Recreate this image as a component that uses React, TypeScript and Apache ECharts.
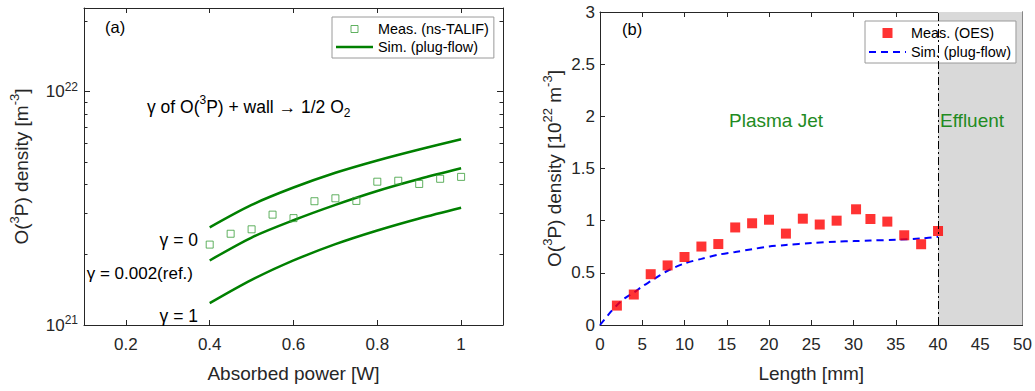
import React, { useEffect, useRef } from 'react';
import * as echarts from 'echarts';

// ---------- Panel (a) data ----------
const powerW = [0.4, 0.45, 0.5, 0.55, 0.6, 0.65, 0.7, 0.75, 0.8, 0.85, 0.9, 0.95, 1.0];
const measTALIF = [2.21e21, 2.46e21, 2.57e21, 2.97e21, 2.87e21, 3.39e21, 3.49e21, 3.40e21, 4.11e21, 4.15e21, 4.02e21, 4.23e21, 4.31e21];
const simPower = [0.4, 0.5, 0.6, 0.7, 0.8, 0.9, 1.0];
const simGamma0 = [2.62e21, 3.27e21, 3.88e21, 4.49e21, 5.07e21, 5.65e21, 6.25e21];
const simGammaRef = [1.89e21, 2.37e21, 2.81e21, 3.27e21, 3.75e21, 4.22e21, 4.69e21];
const simGamma1 = [1.24e21, 1.56e21, 1.89e21, 2.22e21, 2.54e21, 2.86e21, 3.18e21];
const powerTicks = [0.2, 0.4, 0.6, 0.8, 1.0];
const densMajorTicks = [1e21, 1e22];
const densMinorTicks = [2e21, 3e21, 4e21, 5e21, 6e21, 7e21, 8e21, 9e21, 2e22];

// ---------- Panel (b) data ----------
const lengthMm = [2, 4, 6, 8, 10, 12, 14, 16, 18, 20, 22, 24, 26, 28, 30.3, 32, 34, 36, 38, 40];
const measOES = [0.186, 0.292, 0.487, 0.571, 0.652, 0.752, 0.776, 0.935, 0.975, 1.009, 0.876, 1.019, 0.963, 1.0, 1.109, 1.016, 0.991, 0.86, 0.774, 0.901];
const simLength = [0, 1, 2, 3, 4, 5, 6, 8, 10, 12, 14, 16, 18, 20, 22, 25, 28, 30, 32, 35, 38, 40];
const simPlug = [0, 0.1, 0.19, 0.26, 0.31, 0.37, 0.42, 0.52, 0.59, 0.634, 0.674, 0.7, 0.727, 0.752, 0.767, 0.786, 0.799, 0.804, 0.81, 0.817, 0.829, 0.845];
const effluentStart = 40;
const effluentEnd = 50;

const FONT = "'Liberation Sans', Arial, Helvetica, sans-serif";
const AX = '#262626';
const GREEN = '#008000';
const DENS_MIN = 1e21;
const DENS_MAX = 2.28e22;

const supRich = {
  s: { fontSize: 13, fontFamily: FONT, color: AX, verticalAlign: 'top', lineHeight: 12 },
};

const nameStyle = (rich?: any) => ({
  fontSize: 19,
  fontFamily: FONT,
  color: AX,
  lineHeight: 26,
  rich: rich || {},
});

const tickLine = { color: AX, width: 1 };

function boxAxis(extra: any) {
  return {
    type: 'value',
    axisLine: { show: true, onZero: false, lineStyle: tickLine },
    axisTick: { show: true, inside: true, length: 5, lineStyle: tickLine },
    axisLabel: { show: false },
    splitLine: { show: false },
    ...extra,
  };
}

const pts = (xs: number[], ys: number[]) => xs.map((x, i) => [x, ys[i]]);

const SQUARE = 'path://M0 0H10V10H0Z';
const BAR = 'path://M0 0H37V2.5H0Z';
const DASHBAR = 'path://M0 0H7V2H0Z M12 0H19V2H12Z M24 0H31V2H24Z M36 0H37V2H36Z';

function buildOption(): any {
  const labelStyle = { color: AX, fontSize: 17, fontFamily: FONT };
  const txt = (x: number, y: number, text: string, size: number, align: string, fill = '#000', z = 10) => ({
    type: 'text', x, y, z,
    style: { text, fontSize: size, fontFamily: FONT, fill, align, verticalAlign: 'middle' },
  });
  return {
    animation: false,
    backgroundColor: '#ffffff',
    grid: [
      { left: 84, top: 8, width: 419, height: 326, containLabel: false },
      { left: 600, top: 12, width: 423, height: 322, containLabel: false },
    ],
    xAxis: [
      boxAxis({
        gridIndex: 0, position: 'bottom', min: 0.1, max: 1.1,
        axisTick: { show: true, inside: true, length: 5, lineStyle: tickLine, customValues: powerTicks },
        axisLabel: { show: true, customValues: powerTicks, margin: 11, ...labelStyle },
        name: 'Absorbed power [W]', nameLocation: 'middle', nameGap: 35,
        nameTextStyle: nameStyle(),
      }),
      boxAxis({
        gridIndex: 0, position: 'top', min: 0.1, max: 1.1,
        axisTick: { show: true, inside: true, length: 5, lineStyle: tickLine, customValues: powerTicks },
      }),
      boxAxis({
        gridIndex: 1, position: 'bottom', min: 0, max: 50, interval: 5,
        axisLabel: { show: true, margin: 11, ...labelStyle },
        name: 'Length [mm]', nameLocation: 'middle', nameGap: 35,
        nameTextStyle: nameStyle(),
      }),
      boxAxis({ gridIndex: 1, position: 'top', min: 0, max: 50, interval: 5 }),
    ],
    yAxis: [
      boxAxis({
        gridIndex: 0, type: 'log', logBase: 10, position: 'left', min: DENS_MIN, max: DENS_MAX,
        axisTick: { show: true, inside: true, length: 6, lineStyle: tickLine, customValues: densMajorTicks },
        axisLabel: {
          show: true, customValues: densMajorTicks, margin: 6, ...labelStyle, lineHeight: 22,
          formatter: (v: number) => `{b|10}{s|${Math.round(Math.log10(v))}}`,
          rich: {
            b: { fontSize: 17, fontFamily: FONT, color: AX, lineHeight: 22 },
            s: { fontSize: 12, fontFamily: FONT, color: AX, verticalAlign: 'top', lineHeight: 11 },
          },
        },
        name: 'O({s|3}P) density [m{s|-3}]', nameLocation: 'middle', nameGap: 50,
        nameTextStyle: nameStyle(supRich),
      }),
      boxAxis({
        gridIndex: 0, type: 'log', logBase: 10, position: 'right', min: DENS_MIN, max: DENS_MAX,
        axisTick: { show: true, inside: true, length: 6, lineStyle: tickLine, customValues: densMajorTicks },
      }),
      boxAxis({
        gridIndex: 0, type: 'log', logBase: 10, position: 'left', min: DENS_MIN, max: DENS_MAX,
        axisLine: { show: false },
        axisTick: { show: true, inside: true, length: 3.5, lineStyle: tickLine, customValues: densMinorTicks },
      }),
      boxAxis({
        gridIndex: 0, type: 'log', logBase: 10, position: 'right', min: DENS_MIN, max: DENS_MAX,
        axisLine: { show: false },
        axisTick: { show: true, inside: true, length: 3.5, lineStyle: tickLine, customValues: densMinorTicks },
      }),
      boxAxis({
        gridIndex: 1, position: 'left', min: 0, max: 3, interval: 0.5,
        axisLabel: { show: true, margin: 5, ...labelStyle },
        name: 'O({s|3}P) density [10{s|22} m{s|-3}]', nameLocation: 'middle', nameGap: 25,
        nameTextStyle: nameStyle(supRich),
      }),
      boxAxis({ gridIndex: 1, position: 'right', min: 0, max: 3, interval: 0.5 }),
    ],
    legend: [
      {
        left: 332, top: 17, orient: 'vertical', selectedMode: false,
        padding: [5, 5, 4, 4], itemGap: 4, itemWidth: 37, itemHeight: 7,
        backgroundColor: '#ffffff', borderColor: '#9a9a9a', borderWidth: 1,
        textStyle: { fontSize: 14.4, fontFamily: FONT, color: '#000' },
        data: [
          { name: 'Meas. (ns-TALIF)', icon: SQUARE, itemStyle: { color: 'rgba(0,0,0,0)', borderColor: '#3a9e3a', borderWidth: 1 } },
          { name: 'Sim. (plug-flow)', icon: BAR, itemStyle: { color: GREEN, borderWidth: 0 } },
        ],
      },
      {
        left: 865, top: 21, orient: 'vertical', selectedMode: false,
        padding: [5, 5, 4, 4], itemGap: 5, itemWidth: 37, itemHeight: 10,
        backgroundColor: '#ffffff', borderColor: '#9a9a9a', borderWidth: 1,
        textStyle: { fontSize: 14.4, fontFamily: FONT, color: '#000' },
        formatter: (n: string) => n.replace(' [b]', ''),
        data: [
          { name: 'Meas. (OES)', icon: SQUARE, itemStyle: { color: '#ff0000', borderWidth: 0 } },
          { name: 'Sim. (plug-flow) [b]', icon: DASHBAR, itemStyle: { color: '#0000ff', borderWidth: 0 } },
        ],
      },
    ],
    series: [
      {
        name: 'γ = 0', type: 'line', xAxisIndex: 0, yAxisIndex: 0, color: GREEN, smooth: 0.3,
        symbol: 'none', showSymbol: false, lineStyle: { color: GREEN, width: 2.5 },
        data: pts(simPower, simGamma0),
      },
      {
        name: 'Sim. (plug-flow)', type: 'line', xAxisIndex: 0, yAxisIndex: 0, color: GREEN, smooth: 0.3,
        symbol: 'none', showSymbol: false, lineStyle: { color: GREEN, width: 2.5 },
        data: pts(simPower, simGammaRef),
      },
      {
        name: 'γ = 1', type: 'line', xAxisIndex: 0, yAxisIndex: 0, color: GREEN, smooth: 0.3,
        symbol: 'none', showSymbol: false, lineStyle: { color: GREEN, width: 2.5 },
        data: pts(simPower, simGamma1),
      },
      {
        name: 'Meas. (ns-TALIF)', type: 'scatter', xAxisIndex: 0, yAxisIndex: 0,
        symbol: 'rect', symbolSize: 7,
        itemStyle: { color: 'rgba(0,0,0,0)', borderColor: '#3a9e3a', borderWidth: 1 },
        data: pts(powerW, measTALIF),
        z: 3,
      },
      {
        name: 'Sim. (plug-flow) [b]', type: 'line', xAxisIndex: 2, yAxisIndex: 4, color: '#0000ff', smooth: 0.3,
        symbol: 'none', showSymbol: false,
        lineStyle: { color: '#0000ff', width: 2, type: [7, 5] },
        data: pts(simLength, simPlug),
        markArea: {
          silent: true,
          itemStyle: { color: '#d9d9d9' },
          data: [[{ xAxis: effluentStart, yAxis: 0 }, { xAxis: effluentEnd, yAxis: 3 }]],
        },
        markLine: {
          silent: true, symbol: 'none', label: { show: false },
          lineStyle: { color: '#000', width: 1, type: [8, 3, 2, 3] },
          data: [{ xAxis: effluentStart }],
        },
      },
      {
        name: 'Meas. (OES)', type: 'scatter', xAxisIndex: 2, yAxisIndex: 4,
        symbol: 'rect', symbolSize: 10, itemStyle: { color: '#ff0000' },
        data: pts(lengthMm, measOES),
        z: 3,
      },
    ],
    graphic: [
      txt(105, 27, '(a)', 16.5, 'left'),
      txt(622, 29, '(b)', 16.5, 'left'),
      {
        type: 'text', left: 147, top: 94, z: 10,
        style: {
          text: 'γ of O({s|3}P) + wall → 1/2 O{u|2}', fontSize: 17.5, fontFamily: FONT, fill: '#000', lineHeight: 25,
          rich: {
            s: { fontSize: 12, fontFamily: FONT, fill: '#000', verticalAlign: 'top', lineHeight: 12 },
            u: { fontSize: 12, fontFamily: FONT, fill: '#000', verticalAlign: 'bottom', lineHeight: 12 },
          },
        },
      },
      txt(198, 240, 'γ = 0', 17.5, 'right'),
      txt(193, 273, 'γ = 0.002(ref.)', 17, 'right'),
      txt(198, 316, 'γ = 1', 17.5, 'right'),
      txt(776, 120, 'Plasma Jet', 19, 'center', '#228b22'),
      txt(940, 120, 'Effluent', 19, 'left', '#228b22'),
    ],
  };
}

export default function App() {
  const ref = useRef<HTMLDivElement>(null);
  useEffect(() => {
    if (!ref.current) return;
    const chart = echarts.init(ref.current, null, { renderer: 'svg' });
    chart.setOption(buildOption());
    return () => chart.dispose();
  }, []);
  return (
    <div
      ref={ref}
      style={{ position: 'absolute', left: 0, top: 0, width: 1035, height: 391, background: '#fff' }}
    />
  );
}
